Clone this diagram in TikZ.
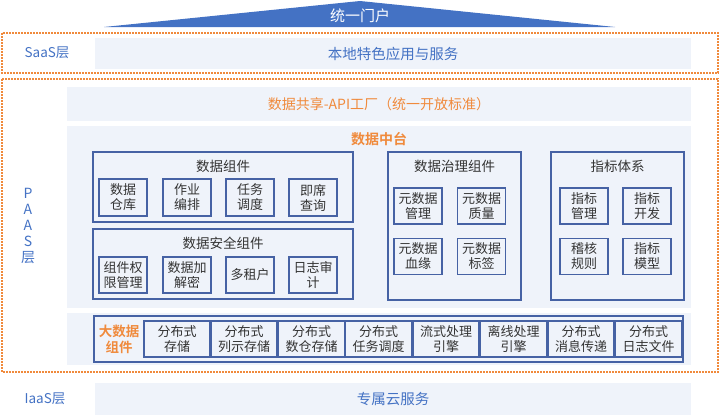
\documentclass[tikz,border=0pt]{standalone}
\usepackage{fontspec}
\setmainfont{Noto Sans CJK SC}[BoldFont={Noto Sans CJK SC Bold}]
\usepackage{xcolor}
\usepackage{tikz}

\definecolor{portalblue}{RGB}{68,114,196}
\definecolor{lineblue}{RGB}{70,98,164}
\definecolor{lightbg}{RGB}{239,243,250}
\definecolor{layerorange}{RGB}{240,138,60}
\definecolor{txtgray}{RGB}{51,51,51}

\begin{document}
\begin{tikzpicture}[x=1pt, y=-1pt,
  layer/.style={draw=layerorange, line width=1.6pt, dash pattern=on 1.6pt off 1.4pt},
  bgbox/.style={fill=lightbg, draw=none, inner sep=0pt},
  grpbox/.style={draw=lineblue, line width=1.3pt, inner sep=0pt},
  itembox/.style={draw=lineblue, line width=1.3pt, inner sep=0pt, align=center,
    text=txtgray, font=\fontsize{13}{15}\selectfont},
  grptitle/.style={text=txtgray, font=\fontsize{13.5}{15}\selectfont},
  layername/.style={text=portalblue, font=\fontsize{13.5}{16}\selectfont}]
\useasboundingbox (0,0) rectangle (720,415);

% portal roof
\fill[portalblue] (104,27) -- (360,1) -- (615,27) -- cycle;
\node[text=white, font=\fontsize{15}{16}\selectfont] (portal) at (360,16) {统一门户};

% SaaS
\draw[layer] (2,33) rectangle (718,73);
\node[layername] (saaslbl) at (47,53) {SaaS层};
\node[bgbox, minimum width=596pt, minimum height=31pt, text=portalblue,
  font=\fontsize{14.5}{16}\selectfont] (saas) at (393,53.5) {本地特色应用与服务};

% PaaS
\draw[layer] (2,79) rectangle (718,372);
\node[layername, align=center, font=\fontsize{14}{16}\selectfont] (paaslbl) at (28,226)
  {P\\A\\A\\S\\层};
\node[bgbox, minimum width=624pt, minimum height=34pt, text=layerorange,
  font=\fontsize{14}{16}\selectfont] (api) at (379,104) {数据共享-API工厂（统一开放标准）};
\node[bgbox, minimum width=624pt, minimum height=182pt] (zt) at (379,217) {};
\node[text=layerorange, font=\bfseries\fontsize{14}{16}\selectfont] (zttitle) at (379,139) {数据中台};

% data components
\node[grpbox, minimum width=260pt, minimum height=70pt] (sjzj) at (223,187) {};
\node[grptitle] (sjzjt) at (223,166) {数据组件};
\node[itembox, minimum width=48pt, minimum height=37pt] (cangku) at (123,197.5) {数据\\仓库};
\node[itembox, minimum width=48pt, minimum height=37pt] (bianpai) at (187,197.5) {作业\\编排};
\node[itembox, minimum width=48pt, minimum height=37pt] (diaodu) at (250,197.5) {任务\\调度};
\node[itembox, minimum width=48pt, minimum height=37pt] (chaxun) at (313,197.5) {即席\\查询};

% security components
\node[grpbox, minimum width=260pt, minimum height=70pt] (aqzj) at (223,264) {};
\node[grptitle] (aqzjt) at (223,243) {数据安全组件};
\node[itembox, minimum width=48pt, minimum height=36pt] (quanxian) at (123,275) {组件权\\限管理};
\node[itembox, minimum width=48pt, minimum height=36pt] (jiami) at (187,275) {数据加\\解密};
\node[itembox, minimum width=48pt, minimum height=36pt] (zuhu) at (250,275) {多租户};
\node[itembox, minimum width=48pt, minimum height=36pt] (shenji) at (313,275) {日志审\\计};

% governance components
\node[grpbox, minimum width=133pt, minimum height=148pt] (zlzj) at (454.5,226) {};
\node[grptitle] (zlzjt) at (454.5,166) {数据治理组件};
\node[itembox, minimum width=48pt, minimum height=36pt] (ysjgl) at (418,206) {元数据\\管理};
\node[itembox, minimum width=48pt, minimum height=36pt] (ysjzl) at (481.5,206) {元数据\\质量};
\node[itembox, minimum width=48pt, minimum height=36pt] (ysjxy) at (418,256.5) {元数据\\血缘};
\node[itembox, minimum width=48pt, minimum height=36pt] (ysjbq) at (481.5,256.5) {元数据\\标签};

% metric system
\node[grpbox, minimum width=133pt, minimum height=148pt] (zbtx) at (617.5,226) {};
\node[grptitle] (zbtxt) at (617.5,166) {指标体系};
\node[itembox, minimum width=48pt, minimum height=36pt] (zbgl) at (584,206) {指标\\管理};
\node[itembox, minimum width=48pt, minimum height=36pt] (zbkf) at (647,206) {指标\\开发};
\node[itembox, minimum width=48pt, minimum height=36pt] (jhgz) at (584,256.5) {稽核\\规则};
\node[itembox, minimum width=48pt, minimum height=36pt] (zbmx) at (647,256.5) {指标\\模型};

% big data components
\node[bgbox, minimum width=624pt, minimum height=52pt] (dsjbg) at (379,339) {};
\node[grpbox, minimum width=589pt, minimum height=46pt] (dsj) at (388.5,339) {};
\node[text=layerorange, align=center, font=\bfseries\fontsize{13.5}{16}\selectfont] (dsjt) at (119,339) {大数据\\组件};
\node[itembox, minimum width=66pt, minimum height=36pt] (fbcc) at (177,339) {分布式\\存储};
\node[itembox, minimum width=66pt, minimum height=36pt] (lscc) at (244,339) {分布式\\列示存储};
\node[itembox, minimum width=66pt, minimum height=36pt] (sccc) at (311.5,339) {分布式\\数仓存储};
\node[itembox, minimum width=66pt, minimum height=36pt] (rwdd) at (378.5,339) {分布式\\任务调度};
\node[itembox, minimum width=66pt, minimum height=36pt] (lsyq) at (446,339) {流式处理\\引擎};
\node[itembox, minimum width=66pt, minimum height=36pt] (lxyq) at (513.5,339) {离线处理\\引擎};
\node[itembox, minimum width=66pt, minimum height=36pt] (xxcd) at (581,339) {分布式\\消息传递};
\node[itembox, minimum width=66pt, minimum height=36pt] (rzwj) at (648.5,339) {分布式\\日志文件};

% IaaS
\node[layername] (iaaslbl) at (45,399) {IaaS层};
\node[bgbox, minimum width=596pt, minimum height=32pt, text=portalblue,
  font=\fontsize{14.5}{16}\selectfont] (iaas) at (393,399) {专属云服务};
\end{tikzpicture}
\end{document}
